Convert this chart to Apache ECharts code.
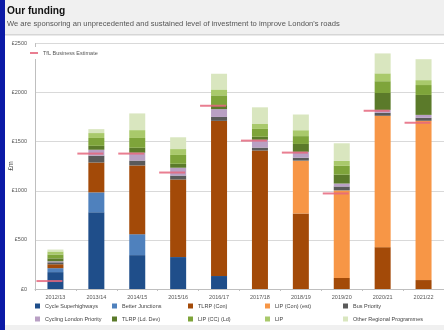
<!DOCTYPE html>
<html><head><meta charset="utf-8">
<script src="https://cdn.jsdelivr.net/npm/echarts@6/dist/echarts.min.js"></script>
<style>html,body{margin:0;padding:0;background:#f0f0f0;}#c{width:444px;height:330px;}</style>
</head><body><div id="c"></div>
<script>
const categories = ['2012/13','2013/14','2014/15','2015/16','2016/17','2017/18','2018/19','2019/20','2020/21','2021/22'];
const cycleSuperhighways = [172,781,345,325,132,0,0,0,0,0];
const betterJunctions    = [40,203,213,0,0,0,0,0,0,0];
const tlrpCon            = [40,304,700,790,1580,1410,770,112,426,91];
const lipCon             = [0,0,0,0,0,0,537,892,1338,1622];
const busPriority        = [20,70,50,40,40,30,30,40,30,30];
const cyclingPriority    = [10,60,80,80,80,80,60,30,30,30];
const tlrpLdDev          = [30,40,50,40,40,30,80,90,172,203];
const lipCCLd            = [40,80,100,90,100,80,80,90,120,101];
const lip                = [30,50,80,60,60,50,60,50,80,50];
const otherRegional      = [20,40,170,120,160,170,160,180,203,213];
const businessEstimate   = [81,1379,1379,1186,1866,1511,1389,973,1815,1693];
const yTicks = [0,500,1000,1500,2000,2500];

const stackDefs = [
  ['Cycle Superhighways', cycleSuperhighways, '#1f4e8a'],
  ['Better Junctions', betterJunctions, '#4f81bd'],
  ['TLRP (Con)', tlrpCon, '#a34a08'],
  ['LIP (Con) (est)', lipCon, '#f79646'],
  ['Bus Priority', busPriority, '#5a5a5a'],
  ['Cycling London Priority', cyclingPriority, '#b9a0c4'],
  ['TLRP (Ld. Dev)', tlrpLdDev, '#5b7a2a'],
  ['LIP (CC) (Ld)', lipCCLd, '#7ea43a'],
  ['LIP', lip, '#a9c96b'],
  ['Other Regional Programmes', otherRegional, '#d9e6bf']
];
const series = stackDefs.map(([name, data, color]) => ({
  name, type: 'bar', stack: 'total', data, barWidth: 16,
  itemStyle: {color}, emphasis: {disabled: true}
}));
series.push({
  name: 'TfL Business Estimate', type: 'scatter', data: businessEstimate,
  symbol: 'rect', symbolSize: [26, 2], symbolOffset: [-6, 0],
  itemStyle: {color: '#e5677e', opacity: 0.85}, z: 5
});

const legendCols = [[0,5],[1,6],[2,7],[3,8],[4,9]];
const colLeft = [35,112,188,265,343];
const legends = legendCols.map((pair, i) => ({
  orient: 'vertical', left: colLeft[i], top: 303, itemGap: 7, padding: 0,
  itemWidth: 5, itemHeight: 5, icon: 'rect', selectedMode: false,
  data: pair.map(k => stackDefs[k][0]),
  textStyle: {fontSize: 5.5, color: '#444', fontFamily: 'Liberation Sans'}
}));
legends.push({
  left: 26, top: 47, itemWidth: 8, itemHeight: 2, icon: 'rect', selectedMode: false,
  backgroundColor: '#fff', padding: [3, 4],
  data: ['TfL Business Estimate'],
  textStyle: {fontSize: 5.5, color: '#555', fontFamily: 'Liberation Sans'}
});

const chart = echarts.init(document.getElementById('c'));
chart.setOption({
  backgroundColor: '#f0f0f0',
  animation: false,
  textStyle: {fontFamily: 'Liberation Sans'},
  graphic: [
    {type: 'rect', shape: {x: 5, y: 35, width: 439, height: 290}, style: {fill: '#ffffff'}, z: -10},
    {type: 'rect', shape: {x: 5, y: 34, width: 439, height: 1.5}, style: {fill: '#d6d6d6'}, z: -9},
    {type: 'rect', shape: {x: 0, y: 0, width: 5, height: 330}, style: {fill: '#0b1aa6'}, z: 10},
    {type: 'text', x: 11, y: 166, rotation: Math.PI / 2, z: 10,
      style: {text: '£m', fontSize: 7, fill: '#444', align: 'center', verticalAlign: 'middle', fontFamily: 'Liberation Sans'}}
  ],
  title: {
    text: 'Our funding', left: 7, top: 6, itemGap: 4, padding: 0,
    textStyle: {fontSize: 10.2, fontWeight: 'bold', color: '#111'},
    subtext: "We are sponsoring an unprecedented and sustained level of investment to improve London's roads",
    subtextStyle: {fontSize: 7.6, color: '#555'}
  },
  legend: legends,
  grid: {left: 35, right: 0, top: 43.5, bottom: 41, containLabel: false, outerBoundsMode: 'none'},
  xAxis: {
    type: 'category', data: categories,
    axisLine: {lineStyle: {color: '#bfbfbf'}},
    axisTick: {show: true, lineStyle: {color: '#bfbfbf'}, length: 2},
    axisLabel: {fontSize: 5.5, color: '#555', margin: 5}
  },
  yAxis: {
    type: 'value', min: 0, max: 2500, interval: 500,
    axisLine: {show: true, lineStyle: {color: '#bfbfbf'}},
    axisTick: {show: false},
    splitLine: {lineStyle: {color: '#d9d9d9'}},
    axisLabel: {fontSize: 5.5, color: '#555', margin: 8,
      formatter: v => yTicks.includes(v) ? '£' + v : ''}
  },
  series
});
</script></body></html>
